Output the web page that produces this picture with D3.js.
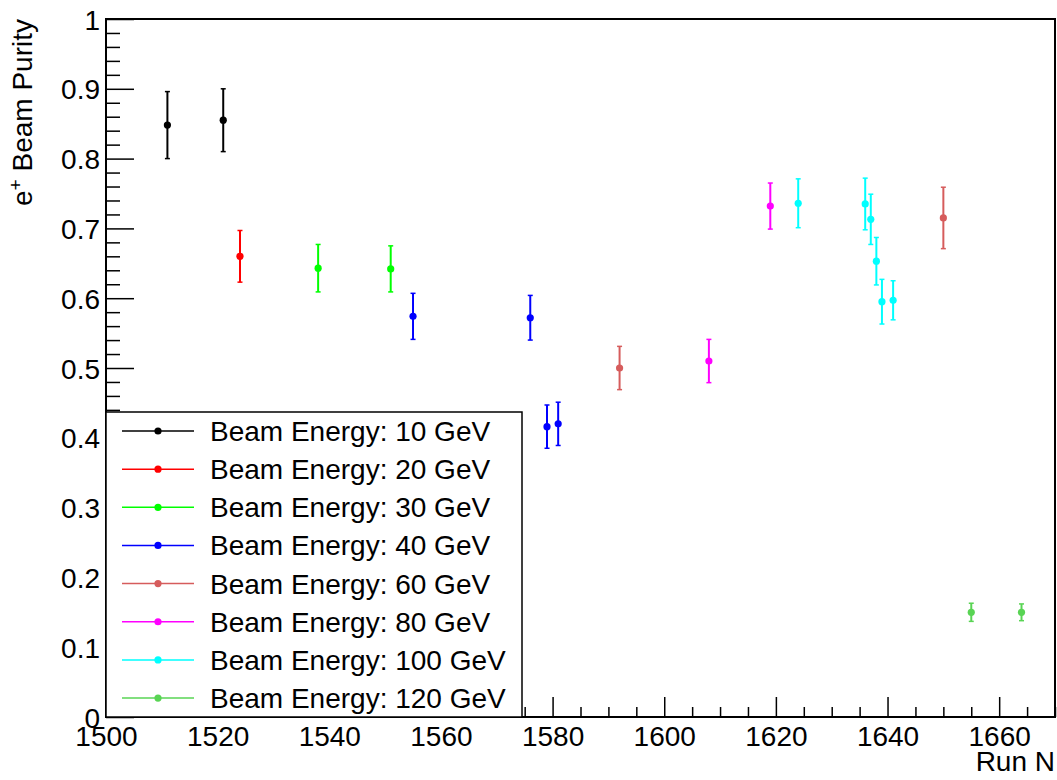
<!DOCTYPE html>
<html>
<head>
<meta charset="utf-8">
<script src="https://cdn.jsdelivr.net/npm/d3@7"></script>
<style>
  body { margin: 0; background: #fff; }
  text { font-family: "Liberation Sans", Arial, sans-serif; }
</style>
</head>
<body>
<div id="chart"></div>
<script>
// beam energies and their colours
var energies = ["10", "20", "30", "40", "60", "80", "100", "120"];
var energyColors = ["#000000", "#ff0000", "#00ff00", "#0000ff", "#d65c5c", "#ff00ff", "#00ffff", "#59d454"];

// one entry per run
var runNumber = [1511, 1521, 1524, 1538, 1551, 1555, 1576, 1579, 1581, 1592, 1650, 1608, 1619, 1624, 1636, 1637, 1638, 1639, 1641, 1655, 1664];
var purity    = [0.848, 0.855, 0.660, 0.643, 0.642, 0.574, 0.572, 0.416, 0.420, 0.500, 0.715, 0.510, 0.732, 0.736, 0.735, 0.713, 0.653, 0.595, 0.597, 0.150, 0.150];
var purityErr = [0.048, 0.045, 0.037, 0.034, 0.033, 0.033, 0.032, 0.031, 0.031, 0.031, 0.044, 0.031, 0.033, 0.035, 0.037, 0.036, 0.034, 0.032, 0.028, 0.013, 0.012];
var runEnergy = ["10", "10", "20", "30", "30", "40", "40", "40", "40", "60", "60", "80", "80", "100", "100", "100", "100", "100", "100", "120", "120"];

var width = 1057, height = 780;
var fontSize = 28;

var x = d3.scaleLinear().domain([1500, 1670]).range([106, 1055]);
var y = d3.scaleLinear().domain([0, 1]).range([717, 19]);
var color = d3.scaleOrdinal().domain(energies).range(energyColors);

var svg = d3.select("#chart").append("svg")
    .attr("width", width)
    .attr("height", height);

// axes (ROOT style: ticks inside the frame)
var xMajor = d3.range(1500, 1661, 20);
var xMinor = d3.range(1500, 1671, 5).filter(function (d) { return d % 20 !== 0; });
var yMajor = d3.range(0, 11).map(function (d) { return d / 10; });
var yMinor = d3.range(0, 51).map(function (d) { return d / 50; }).filter(function (d, i) { return i % 5 !== 0; });

var gx = svg.append("g").attr("transform", "translate(0," + y(0) + ")");
gx.call(d3.axisBottom(x).tickValues(xMajor).tickSize(-20).tickPadding(30).tickFormat(d3.format("d")));
var gxm = svg.append("g").attr("transform", "translate(0," + y(0) + ")");
gxm.call(d3.axisBottom(x).tickValues(xMinor).tickSize(-10).tickFormat(""));

var gy = svg.append("g").attr("transform", "translate(" + x(1500) + ",0)");
gy.call(d3.axisLeft(y).tickValues(yMajor).tickSize(-28).tickPadding(6)
    .tickFormat(function (d) { return d === 0 ? "0" : d === 1 ? "1" : d3.format(".1f")(d); }));
var gym = svg.append("g").attr("transform", "translate(" + x(1500) + ",0)");
gym.call(d3.axisLeft(y).tickValues(yMinor).tickSize(-14).tickFormat(""));

svg.selectAll(".domain").remove();
svg.selectAll(".tick line").attr("stroke", "#000").attr("stroke-width", 1.5);
svg.selectAll(".tick text")
    .attr("fill", "#000")
    .style("font-size", fontSize + "px")
    .style("font-family", "'Liberation Sans', Arial, sans-serif");
gx.selectAll(".tick text").attr("dy", null).attr("y", 29);
gy.selectAll(".tick text").attr("dy", "0.36em");

// frame
svg.append("rect")
    .attr("x", x(1500)).attr("y", y(1))
    .attr("width", x(1670) - x(1500)).attr("height", y(0) - y(1))
    .attr("fill", "none").attr("stroke", "#000").attr("stroke-width", 2);

// axis titles
svg.append("text")
    .attr("x", x(1670)).attr("y", 771)
    .attr("text-anchor", "end")
    .style("font-size", fontSize + "px")
    .text("Run N");

var yt = svg.append("text")
    .attr("transform", "translate(32," + y(1) + ") rotate(-90)")
    .attr("text-anchor", "end")
    .style("font-size", fontSize + "px");
yt.append("tspan").text("e");
yt.append("tspan").attr("baseline-shift", "super").style("font-size", "19px").text("+");
yt.append("tspan").text(" Beam Purity");

// points with error bars
var pts = svg.append("g").selectAll("g")
    .data(runNumber.map(function (r, i) {
        return { run: r, v: purity[i], e: purityErr[i], energy: runEnergy[i] };
    }))
    .enter().append("g")
    .attr("stroke", function (d) { return color(d.energy); })
    .attr("fill", function (d) { return color(d.energy); });

pts.append("line")
    .attr("x1", function (d) { return x(d.run); }).attr("x2", function (d) { return x(d.run); })
    .attr("y1", function (d) { return y(d.v + d.e); }).attr("y2", function (d) { return y(d.v - d.e); })
    .attr("stroke-width", 2);
pts.append("line")
    .attr("x1", function (d) { return x(d.run) - 2.5; }).attr("x2", function (d) { return x(d.run) + 2.5; })
    .attr("y1", function (d) { return y(d.v + d.e); }).attr("y2", function (d) { return y(d.v + d.e); })
    .attr("stroke-width", 1.5);
pts.append("line")
    .attr("x1", function (d) { return x(d.run) - 2.5; }).attr("x2", function (d) { return x(d.run) + 2.5; })
    .attr("y1", function (d) { return y(d.v - d.e); }).attr("y2", function (d) { return y(d.v - d.e); })
    .attr("stroke-width", 1.5);
pts.append("circle")
    .attr("cx", function (d) { return x(d.run); })
    .attr("cy", function (d) { return y(d.v); })
    .attr("r", 3.6)
    .attr("stroke", "none");

// legend
var legend = svg.append("g");
legend.append("rect")
    .attr("x", 106).attr("y", 412)
    .attr("width", 416).attr("height", 305)
    .attr("fill", "#fff").attr("stroke", "#000").attr("stroke-width", 1.5);

var rows = legend.selectAll(".row")
    .data(energies)
    .enter().append("g")
    .attr("class", "row")
    .attr("transform", function (d, i) { return "translate(0," + (431 + i * 38.15) + ")"; });

rows.append("line")
    .attr("x1", 122).attr("x2", 194)
    .attr("stroke", function (d) { return color(d); })
    .attr("stroke-width", 1.5);
rows.append("circle")
    .attr("cx", 158).attr("r", 3.6)
    .attr("fill", function (d) { return color(d); });
rows.append("text")
    .attr("x", 210).attr("y", 10)
    .style("font-size", fontSize + "px")
    .text(function (d) { return "Beam Energy: " + d + " GeV"; });
</script>
</body>
</html>
